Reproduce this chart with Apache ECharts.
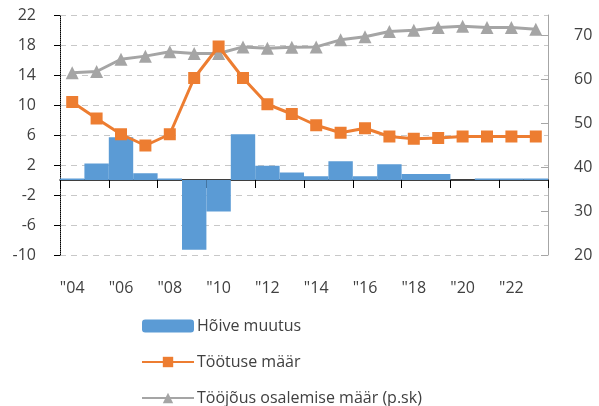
<!DOCTYPE html>
<html>
<head>
<meta charset="utf-8">
<script src="https://cdn.jsdelivr.net/npm/echarts@6/dist/echarts.min.js"></script>
<style>
  html, body { margin: 0; padding: 0; background: #fff; }
  #chart { width: 599px; height: 406px; }
</style>
</head>
<body>
<div id="chart"></div>
<script>
  // years and tick labels
  var years = ['2004', '2005', '2006', '2007', '2008', '2009', '2010', '2011', '2012', '2013',
    '2014', '2015', '2016', '2017', '2018', '2019', '2020', '2021', '2022', '2023'];
  var yearLabels = ['"04', '', '"06', '', '"08', '', '"10', '', '"12', '', '"14', '', '"16', '', '"18', '', '"20', '', '"22', ''];

  // Hõive muutus (left axis)
  var employmentChange = [0.2, 2.2, 5.7, 0.9, 0.2, -9.3, -4.2, 6.1, 1.9, 1.0,
    0.5, 2.5, 0.5, 2.1, 0.8, 0.8, 0, 0.2, 0.2, 0.2];
  // Töötuse määr (left axis)
  var unemployment = [10.4, 8.2, 6.1, 4.6, 6.1, 13.6, 17.8, 13.6, 10.1, 8.8,
    7.3, 6.3, 6.9, 5.8, 5.5, 5.6, 5.8, 5.8, 5.8, 5.8];
  // Tööjõus osalemise määr (right axis)
  var participation = [61.4, 61.7, 64.5, 65.2, 66.2, 65.8, 65.8, 67.3, 67.0, 67.2,
    67.3, 68.9, 69.6, 70.8, 71.1, 71.7, 72.0, 71.7, 71.7, 71.3];

  var font = 'Open Sans';
  var textColor = '#404040';

  var myChart = echarts.init(document.getElementById('chart'));
  myChart.setOption({
    animation: false,
    textStyle: { fontFamily: font },
    grid: { left: 60, right: 51, top: 15, bottom: 151 },
    legend: {
      orient: 'vertical',
      left: 141,
      top: 318,
      height: 88,
      padding: 0,
      itemWidth: 52,
      itemHeight: 13,
      itemGap: 20,
      textStyle: { fontFamily: font, fontSize: 16, color: textColor, padding: [0, 0, 0, -2] },
      data: ['Hõive muutus', 'Töötuse määr', 'Tööjõus osalemise määr (p.sk)']
    },
    xAxis: [
      {
        type: 'category',
        data: years,
        axisLine: { onZero: true, lineStyle: { color: '#000', width: 1.5 } },
        axisTick: { show: true, length: 8, inside: false, lineStyle: { color: '#000' } },
        axisLabel: { show: false },
        splitLine: { show: false }
      },
      {
        type: 'category',
        data: yearLabels,
        position: 'bottom',
        axisLine: { show: false, onZero: false },
        axisTick: { show: false },
        axisLabel: { interval: 0, margin: 25, fontSize: 16, color: textColor, fontFamily: font }
      }
    ],
    yAxis: [
      {
        type: 'value',
        min: -10,
        max: 22,
        interval: 4,
        axisLine: { show: true, lineStyle: { color: '#000', type: 'dotted' } },
        axisTick: { show: true, length: 6, lineStyle: { color: '#000' } },
        axisLabel: { margin: 24, fontSize: 16, color: textColor, fontFamily: font },
        splitLine: { show: true, lineStyle: { color: '#c8c8c8', type: [6, 5] } }
      },
      {
        type: 'value',
        min: 20,
        max: 74.55,
        interval: 10,
        position: 'right',
        axisLine: { show: true, lineStyle: { color: '#a6a6a6' } },
        axisTick: { show: true, inside: true, length: 7, lineStyle: { color: '#a6a6a6' } },
        axisLabel: { margin: 26, fontSize: 16, color: textColor, fontFamily: font,
          showMaxLabel: false },
        splitLine: { show: false }
      }
    ],
    series: [
      {
        name: 'Hõive muutus',
        type: 'bar',
        data: employmentChange,
        barCategoryGap: 0,
        itemStyle: { color: '#5b9bd5' },
        z: 1
      },
      {
        name: 'Töötuse määr',
        type: 'line',
        data: unemployment,
        symbol: 'rect',
        symbolSize: 12,
        lineStyle: { color: '#ed7d31', width: 3 },
        itemStyle: { color: '#ed7d31' },
        z: 3
      },
      {
        name: 'Tööjõus osalemise määr (p.sk)',
        type: 'line',
        yAxisIndex: 1,
        data: participation,
        symbol: 'triangle',
        symbolSize: 13,
        lineStyle: { color: '#a5a5a5', width: 3 },
        itemStyle: { color: '#a5a5a5' },
        z: 2
      }
    ]
  });
</script>
</body>
</html>
